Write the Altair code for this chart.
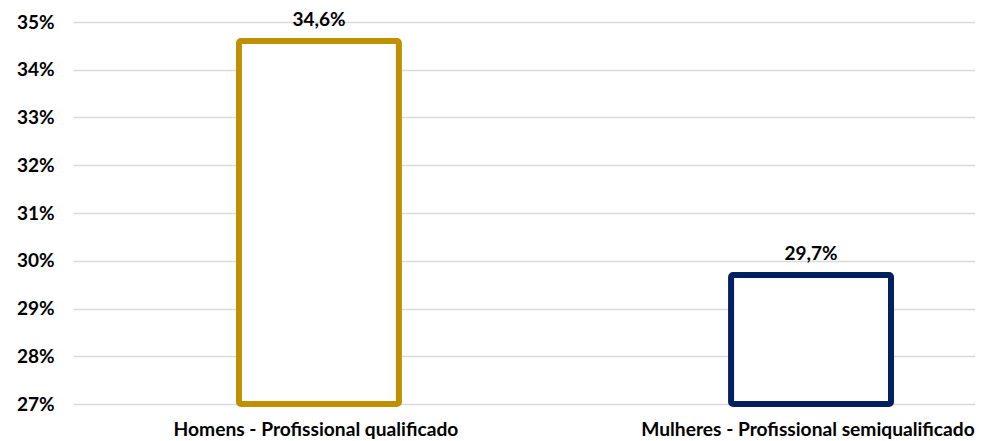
import altair as alt
import pandas as pd

categories = ["Homens - Profissional qualificado", "Mulheres - Profissional semiqualificado"]
values = [0.346, 0.297]
value_labels = ["34,6%", "29,7%"]
colors = ["#BF9000", "#002060"]
y_ticks = [0.27, 0.28, 0.29, 0.30, 0.31, 0.32, 0.33, 0.34, 0.35]
baseline = 0.27

df = pd.DataFrame({"cat": categories, "val": values, "lab": value_labels,
                   "base": [baseline] * len(categories)})

FONT = "Lato"

x = alt.X("cat:N", sort=categories, title=None,
          scale=alt.Scale(paddingInner=0.675, paddingOuter=0.254, align=0.664),
          axis=alt.Axis(labelAngle=0, labelFont=FONT, labelFontWeight="bold",
                        labelFontSize=19.2, labelColor="#000000", ticks=False,
                        domain=False, labelPadding=31, labelBaseline="alphabetic",
                        labelOverlap=False, labelLimit=0, labelOffset=-3,
                        labelBound=False, labelFlush=False))
y = alt.Y("val:Q", title=None,
          scale=alt.Scale(domain=[0.27, 0.35], zero=False, nice=False),
          axis=alt.Axis(values=y_ticks, format=".0%", labelFont=FONT,
                        labelFontWeight="bold", labelFontSize=19, labelColor="#000000",
                        ticks=False, domain=False, labelPadding=19,
                        grid=True, gridColor="#D9D9D9", gridWidth=1.5))

bars = alt.Chart(df).mark_bar(fill="white", strokeWidth=6, strokeJoin="round",
                              cornerRadius=2).encode(
    x=x, y=y, y2="base:Q",
    stroke=alt.Stroke("cat:N", scale=alt.Scale(domain=categories, range=colors), legend=None),
)

text = alt.Chart(df).mark_text(font=FONT, fontWeight="bold", fontSize=19,
                               baseline="alphabetic", dy=-15, color="#000000").encode(
    x=alt.X("cat:N", sort=categories), y="val:Q", text="lab:N")

chart = (bars + text).properties(
    width=902, height=382,
    autosize=alt.AutoSizeParams(type="none"),
    padding={"left": 65, "top": 14, "right": 0, "bottom": 40},
).configure_view(stroke=None)

chart.save("out.html", embed_options={"renderer": "svg", "actions": False})
